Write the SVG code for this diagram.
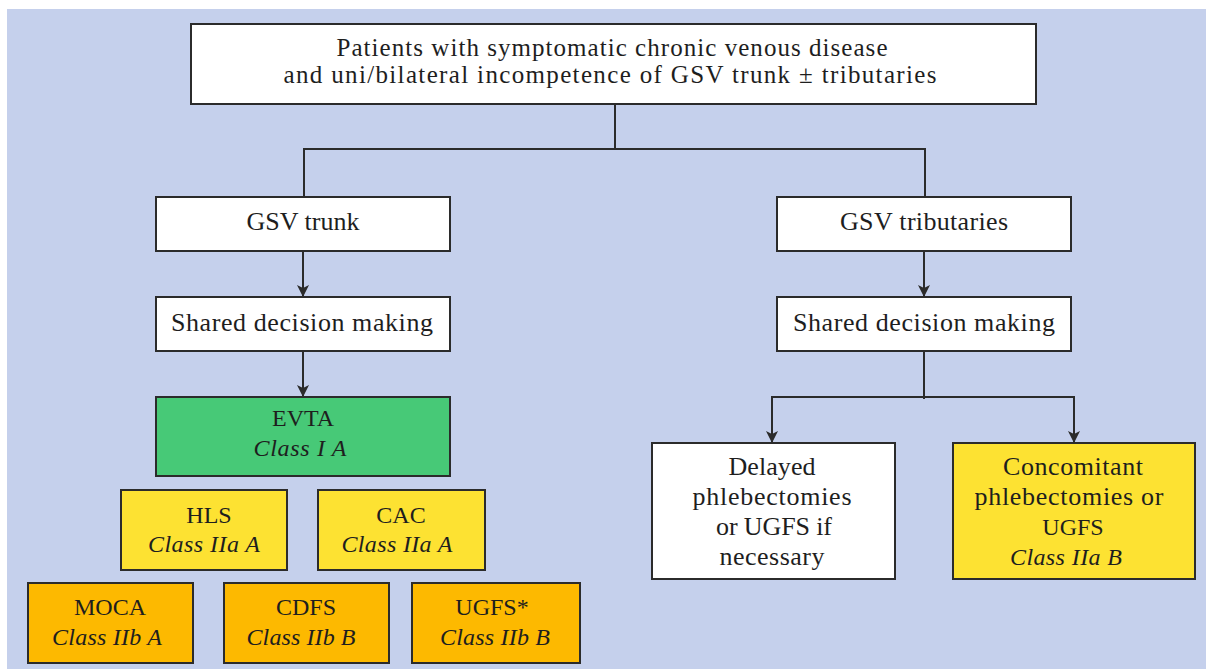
<svg xmlns="http://www.w3.org/2000/svg" width="1206" height="669" viewBox="0 0 1206 669">
<style>
.box{stroke:#2b2b2b;stroke-width:2}
.w{fill:#ffffff}
.g{fill:#47c977}
.y{fill:#fde232}
.o{fill:#fdb900}
text{font-family:"Liberation Serif","Times New Roman",serif;fill:#1e1e1e;text-anchor:middle}
.t{font-size:25px}
.n{font-size:26px}
.k{font-size:24px}
.i{font-size:24px;font-style:italic}
.c{fill:none;stroke:#2b2b2b;stroke-width:2}
</style>
<defs>
<marker id="ah" viewBox="0 0 12 12" refX="12" refY="6" markerWidth="12" markerHeight="12" markerUnits="userSpaceOnUse" orient="auto">
<path d="M0,0 L12,6 L0,12 L3,6 z" fill="#2b2b2b"/>
</marker>
</defs>
<rect x="7" y="9" width="1199" height="660" fill="#c5d0ec"/>
<g id="connectors">
<path class="c" d="M615,104 V149 M304,149 H925 M304,148 V197 M925,148 V197"/>
<path class="c" d="M303,251 V297" marker-end="url(#ah)"/>
<path class="c" d="M303,351 V397" marker-end="url(#ah)"/>
<path class="c" d="M924,251 V297" marker-end="url(#ah)"/>
<path class="c" d="M924,351 V399 M772,397 H1074"/>
<path class="c" d="M772,396 V443" marker-end="url(#ah)"/>
<path class="c" d="M1074,396 V443" marker-end="url(#ah)"/>
</g>
<g id="top">
<rect class="box w" x="191" y="24" width="845" height="80"/>
<text class="t" x="612" y="56" textLength="551" lengthAdjust="spacing">Patients with symptomatic chronic venous disease</text>
<text class="t" x="610" y="83" textLength="653" lengthAdjust="spacing">and uni/bilateral incompetence of GSV trunk ± tributaries</text>
</g>
<g id="gsv-trunk">
<rect class="box w" x="156" y="197" width="294" height="54"/>
<text class="n" x="303" y="230" textLength="113" lengthAdjust="spacing">GSV trunk</text>
</g>
<g id="sdm-left">
<rect class="box w" x="156" y="297" width="294" height="54"/>
<text class="n" x="302" y="331" textLength="262" lengthAdjust="spacing">Shared decision making</text>
</g>
<g id="evta">
<rect class="box g" x="156" y="397" width="294" height="79"/>
<text class="k" x="303" y="426">EVTA</text>
<text class="i" x="300" y="456" textLength="93" lengthAdjust="spacing">Class I A</text>
</g>
<g id="hls">
<rect class="box y" x="121" y="490" width="166" height="80"/>
<text class="k" x="209" y="523">HLS</text>
<text class="i" x="204" y="552" textLength="112" lengthAdjust="spacing">Class IIa A</text>
</g>
<g id="cac">
<rect class="box y" x="318" y="490" width="167" height="80"/>
<text class="k" x="401" y="523">CAC</text>
<text class="i" x="397" y="552" textLength="111" lengthAdjust="spacing">Class IIa A</text>
</g>
<g id="moca">
<rect class="box o" x="28" y="583" width="165" height="80"/>
<text class="k" x="110" y="615">MOCA</text>
<text class="i" x="107" y="645" textLength="110" lengthAdjust="spacing">Class IIb A</text>
</g>
<g id="cdfs">
<rect class="box o" x="224" y="583" width="165" height="80"/>
<text class="k" x="306" y="615">CDFS</text>
<text class="i" x="301" y="645" textLength="109" lengthAdjust="spacing">Class IIb B</text>
</g>
<g id="ugfs">
<rect class="box o" x="412" y="583" width="168" height="80"/>
<text class="k" x="492" y="615">UGFS*</text>
<text class="i" x="495" y="645" textLength="110" lengthAdjust="spacing">Class IIb B</text>
</g>
<g id="gsv-trib">
<rect class="box w" x="777" y="197" width="294" height="54"/>
<text class="n" x="924" y="230" textLength="168" lengthAdjust="spacing">GSV tributaries</text>
</g>
<g id="sdm-right">
<rect class="box w" x="777" y="297" width="294" height="54"/>
<text class="n" x="924" y="331" textLength="262" lengthAdjust="spacing">Shared decision making</text>
</g>
<g id="delayed">
<rect class="box w" x="652" y="443" width="243" height="136"/>
<text class="n" x="772" y="475" textLength="87" lengthAdjust="spacing">Delayed</text>
<text class="n" x="772" y="505" textLength="159" lengthAdjust="spacing">phlebectomies</text>
<text class="n" x="774" y="535" textLength="116" lengthAdjust="spacing">or UGFS if</text>
<text class="n" x="772" y="565" textLength="105" lengthAdjust="spacing">necessary</text>
</g>
<g id="concomitant">
<rect class="box y" x="953" y="443" width="242" height="136"/>
<text class="n" x="1073" y="475" textLength="140" lengthAdjust="spacing">Concomitant</text>
<text class="n" x="1069" y="505" textLength="189" lengthAdjust="spacing">phlebectomies or</text>
<text class="k" x="1073" y="535">UGFS</text>
<text class="i" x="1066" y="565" textLength="112" lengthAdjust="spacing">Class IIa B</text>
</g>
</svg>
